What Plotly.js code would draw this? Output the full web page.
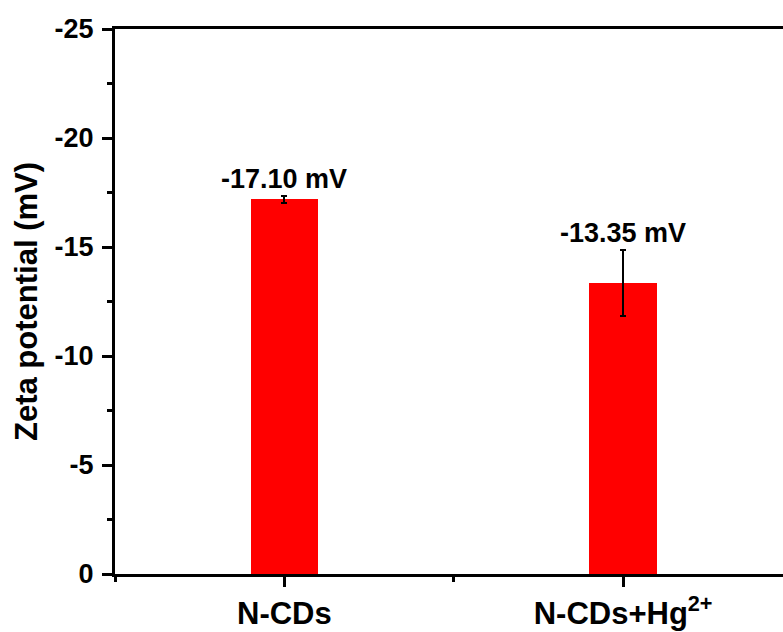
<!DOCTYPE html>
<html>
<head>
<meta charset="utf-8">
<script src="https://cdn.plot.ly/plotly-3.0.1.min.js"></script>
<style>html,body{margin:0;padding:0;background:#fff;}#chart{width:783px;height:632px;}</style>
</head>
<body>
<div id="chart"></div>
<script>
const categories = ["N-CDs", "N-CDs+Hg<sup>2+</sup>"];
const categoryPos = [0, 1];
const zetaValues = [-17.18, -13.35];
const zetaErrors = [0.17, 1.5];
const barLabels = ["-17.10 mV", "-13.35 mV"];
const yTickVals = [0, -5, -10, -15, -20, -25];
const yTickText = ["0", "-5", "-10", "-15", "-20", "-25"];

const FONT = "Arial, 'Liberation Sans', sans-serif";

const trace = {
  type: "bar",
  x: categoryPos,
  y: zetaValues,
  width: 0.2,
  marker: {color: "#ff0000", line: {width: 0}},
  error_y: {type: "data", array: zetaErrors, visible: true, color: "#000", thickness: 2, width: 3},
  hoverinfo: "none"
};

const annotations = categoryPos.map((x, i) => ({
  x: x, y: zetaValues[i] - zetaErrors[i],
  xref: "x", yref: "y",
  text: "<b>" + barLabels[i] + "</b>",
  showarrow: false,
  yanchor: "bottom",
  yshift: 0,
  font: {family: FONT, size: 27, color: "#000"}
}));

const layout = {
  width: 783, height: 632,
  margin: {l: 115, r: 0, t: 29, b: 58},
  paper_bgcolor: "#fff", plot_bgcolor: "#fff",
  showlegend: false,
  bargap: 0,
  xaxis: {
    range: [-0.5, 1.472],
    tickvals: categoryPos,
    ticktext: categories.map(c => "<b>" + c + "</b>"),
    ticks: "outside", ticklen: 10, tickwidth: 3, tickcolor: "#000",
    minor: {tick0: -0.5, dtick: 1, ticks: "outside", ticklen: 5, tickwidth: 3, tickcolor: "#000"},
    showline: true, linewidth: 3, linecolor: "#000", mirror: true,
    showgrid: false, zeroline: false,
    tickfont: {family: FONT, size: 31, color: "#000"}
  },
  yaxis: {
    range: [0, -25],
    tickvals: yTickVals,
    ticktext: yTickText.map(t => "<b>" + t + "</b>"),
    ticks: "outside", ticklen: 10, tickwidth: 3, tickcolor: "#000",
    minor: {tick0: 0, dtick: 2.5, ticks: "outside", ticklen: 5, tickwidth: 3, tickcolor: "#000"},
    showline: true, linewidth: 3, linecolor: "#000",
    showgrid: false, zeroline: false,
    ticklabelstandoff: 3,
    tickfont: {family: FONT, size: 27, color: "#000"},
    title: {text: "<b>Zeta potential (mV)</b>", font: {family: FONT, size: 31, color: "#000"}, standoff: 8}
  },
  annotations: annotations
};

Plotly.newPlot("chart", [trace], layout, {staticPlot: true, displayModeBar: false});
</script>
</body>
</html>
